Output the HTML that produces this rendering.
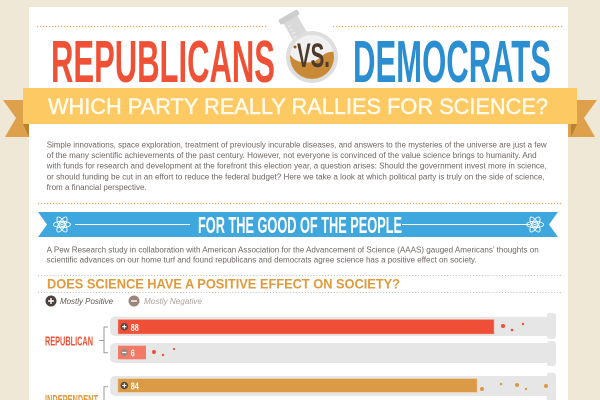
<!DOCTYPE html>
<html><head><meta charset="utf-8">
<style>html,body{margin:0;padding:0;background:#efe8d6;overflow:hidden}svg{display:block}</style></head>
<body>
<svg width="600" height="400" viewBox="0 0 600 400" xmlns="http://www.w3.org/2000/svg">
<defs><clipPath id="fl"><circle cx="312" cy="57" r="22"/></clipPath></defs>
<rect width="600" height="400" fill="#efe8d6"/>
<!-- ribbon tails -->
<path d="M3 100 L32 100 L32 137 L5 137 L16 118 Z" fill="#dea04a"/>
<path d="M597 100 L568 100 L568 137 L595 137 L584 118 Z" fill="#dea04a"/>
<path d="M23 124 L29 124 L29 137 Z" fill="#b98130"/>
<path d="M577 124 L571 124 L571 137 Z" fill="#b98130"/>
<!-- panel -->
<rect x="29" y="7" width="539" height="400" fill="#ffffff"/>
<!-- dotted header lines -->
<line x1="37" y1="26.5" x2="267" y2="26.5" stroke="#eaa65a" stroke-width="1.2" stroke-dasharray="1.2 1.8"/>
<line x1="333" y1="26.5" x2="563" y2="26.5" stroke="#eaa65a" stroke-width="1.2" stroke-dasharray="1.2 1.8"/>
<!-- flask -->
<g transform="rotate(-30 312 57)">
 <rect x="304" y="12" width="16" height="34" fill="#d9d9d9"/>
 <rect x="301" y="8" width="22" height="6" rx="2" fill="#cdcdcd"/>
 <line x1="306" y1="19" x2="310" y2="19" stroke="#f4f4f4" stroke-width="0.8"/>
 <line x1="306" y1="23" x2="309" y2="23" stroke="#f4f4f4" stroke-width="0.8"/>
 <line x1="306" y1="27" x2="310" y2="27" stroke="#f4f4f4" stroke-width="0.8"/>
 <line x1="306" y1="31" x2="309" y2="31" stroke="#f4f4f4" stroke-width="0.8"/>
</g>
<circle cx="312" cy="57" r="26" fill="#dedede"/>
<circle cx="312" cy="57" r="22" fill="#f1f1f1"/>
<path clip-path="url(#fl)" d="M288 50 C291 60 300 64 312 62 C321 60 323 50 336 52 L336 82 L288 82 Z" fill="#c98a38"/>
<circle cx="295" cy="47" r="1.5" fill="#8a5a2a"/>
<text x="297" y="67" font-family="'Liberation Sans Narrow','Liberation Sans',sans-serif" font-weight="bold" font-size="34" textLength="33" lengthAdjust="spacingAndGlyphs" fill="#4e3a2c">VS.</text>
<!-- titles -->
<text x="51" y="82" font-family="'Liberation Sans Narrow','Liberation Sans',sans-serif" font-weight="bold" font-size="59" textLength="224" lengthAdjust="spacingAndGlyphs" fill="#ef5136">REPUBLICANS</text>
<text x="353" y="82" font-family="'Liberation Sans Narrow','Liberation Sans',sans-serif" font-weight="bold" font-size="59" textLength="198" lengthAdjust="spacingAndGlyphs" fill="#2b8ed0">DEMOCRATS</text>
<!-- ribbon -->
<rect x="23" y="88" width="554" height="36" fill="#fcc962"/>
<text x="48" y="114" font-family="'Liberation Sans',sans-serif" font-size="22" textLength="500" lengthAdjust="spacingAndGlyphs" fill="#fffaea" stroke="#fffaea" stroke-width="0.5">WHICH PARTY REALLY RALLIES FOR SCIENCE?</text>
<!-- paragraph -->
<g font-family="'Liberation Sans',sans-serif" font-size="8" fill="#6e6661" lengthAdjust="spacingAndGlyphs">
<text x="46.7" y="147.5" textLength="500" lengthAdjust="spacingAndGlyphs">Simple innovations, space exploration, treatment of previously incurable diseases, and answers to the mysteries of the universe are just a few</text>
<text x="46.7" y="158" textLength="490" lengthAdjust="spacingAndGlyphs">of the many scientific achievements of the past century. However, not everyone is convinced of the value science brings to humanity. And</text>
<text x="46.7" y="168.7" textLength="500" lengthAdjust="spacingAndGlyphs">with funds for research and development at the forefront this election year, a question arises: Should the government invest more in science,</text>
<text x="46.7" y="179.3" textLength="498" lengthAdjust="spacingAndGlyphs">or should funding be cut in an effort to reduce the federal budget? Here we take a look at which political party is truly on the side of science,</text>
<text x="46.7" y="189.8" textLength="100" lengthAdjust="spacingAndGlyphs">from a financial perspective.</text>
</g>
<line x1="38" y1="203.5" x2="562" y2="203.5" stroke="#eaa65a" stroke-width="1.2" stroke-dasharray="1.2 1.8"/>
<!-- blue banner -->
<path d="M38 212 L558 212 L549 224.5 L558 237 L38 237 L47 224.5 Z" fill="#3ea7dd"/>
<line x1="75" y1="224.5" x2="190" y2="224.5" stroke="#ffffff" stroke-width="1"/>
<line x1="402" y1="224.5" x2="530" y2="224.5" stroke="#ffffff" stroke-width="1"/>
<g fill="none" stroke="#ffffff" stroke-width="0.9">
 <ellipse cx="62" cy="224.5" rx="8.5" ry="3.2"/>
 <ellipse cx="62" cy="224.5" rx="8.5" ry="3.2" transform="rotate(60 62 224.5)"/>
 <ellipse cx="62" cy="224.5" rx="8.5" ry="3.2" transform="rotate(120 62 224.5)"/>
 <circle cx="62" cy="224.5" r="2.2"/>
 <ellipse cx="535" cy="224.5" rx="8.5" ry="3.2"/>
 <ellipse cx="535" cy="224.5" rx="8.5" ry="3.2" transform="rotate(60 535 224.5)"/>
 <ellipse cx="535" cy="224.5" rx="8.5" ry="3.2" transform="rotate(120 535 224.5)"/>
 <circle cx="535" cy="224.5" r="2.2"/>
</g>
<circle cx="62" cy="224.5" r="0.9" fill="#fff"/>
<circle cx="535" cy="224.5" r="0.9" fill="#fff"/>
<text x="198" y="233" font-family="'Liberation Sans Narrow','Liberation Sans',sans-serif" font-weight="bold" font-size="23.5" textLength="204" lengthAdjust="spacingAndGlyphs" fill="#ffffff">FOR THE GOOD OF THE PEOPLE</text>
<!-- pew text -->
<g font-family="'Liberation Sans',sans-serif" font-size="8" fill="#6e6661">
<text x="46.7" y="252.5" textLength="492" lengthAdjust="spacingAndGlyphs">A Pew Research study in collaboration with American Association for the Advancement of Science (AAAS) gauged Americans’ thoughts on</text>
<text x="46.7" y="262.5" textLength="430" lengthAdjust="spacingAndGlyphs">scientific advances on our home turf and found republicans and democrats agree science has a positive effect on society.</text>
</g>
<!-- question header -->
<line x1="38" y1="275.5" x2="562" y2="275.5" stroke="#bdbdbd" stroke-width="1.1" stroke-dasharray="1.1 1.8"/>
<text x="47" y="288.5" font-family="'Liberation Sans',sans-serif" font-weight="bold" font-size="14" textLength="353" lengthAdjust="spacingAndGlyphs" fill="#e0993b">DOES SCIENCE HAVE A POSITIVE EFFECT ON SOCIETY?</text>
<line x1="38" y1="292.5" x2="562" y2="292.5" stroke="#bdbdbd" stroke-width="1.1" stroke-dasharray="1.1 1.8"/>
<!-- legend -->
<circle cx="51" cy="301" r="5.5" fill="#4b403c"/>
<path d="M48 301 H54 M51 298 V304" stroke="#fff" stroke-width="1.4"/>
<text x="60" y="304" font-family="'Liberation Sans',sans-serif" font-style="italic" font-size="8.5" textLength="53" lengthAdjust="spacingAndGlyphs" fill="#5f5752">Mostly Positive</text>
<circle cx="134" cy="301" r="5.5" fill="#9b8679"/>
<path d="M131 301 H137" stroke="#fff" stroke-width="1.4"/>
<text x="144" y="304" font-family="'Liberation Sans',sans-serif" font-style="italic" font-size="8.5" textLength="58" lengthAdjust="spacingAndGlyphs" fill="#aaa29c">Mostly Negative</text>
<!-- tracks -->
<g fill="#e6e6e7">
 <rect x="110" y="316.7" width="440" height="19.3" rx="5"/>
 <rect x="546.7" y="313" width="9.3" height="26" rx="3"/>
 <rect x="110" y="343" width="440" height="20" rx="5"/>
 <rect x="546.7" y="341" width="9.3" height="25" rx="3"/>
 <rect x="110" y="376" width="440" height="20" rx="5"/>
 <rect x="546.7" y="372.7" width="9.3" height="35" rx="3"/>
</g>
<!-- bars -->
<rect x="118" y="319.5" width="376" height="14.5" fill="#f04f37" stroke="#f6a394" stroke-width="0.5"/>
<rect x="118" y="345.7" width="28" height="13.6" fill="#f27a67"/>
<rect x="118" y="378.7" width="359" height="13.6" fill="#db9a45" stroke="#eec08a" stroke-width="0.5"/>
<!-- bar icons -->
<circle cx="124.3" cy="326.7" r="3.8" fill="#5a4a44"/>
<path d="M122.2 326.7 H126.4 M124.3 324.6 V328.8" stroke="#fff" stroke-width="1.1"/>
<circle cx="124.3" cy="352.5" r="3.8" fill="#a08a80"/>
<path d="M122.2 352.5 H126.4" stroke="#fff" stroke-width="1.1"/>
<circle cx="124.3" cy="385.5" r="3.8" fill="#5a4a44"/>
<path d="M122.2 385.5 H126.4 M124.3 383.4 V387.6" stroke="#fff" stroke-width="1.1"/>
<g font-family="'Liberation Sans Narrow','Liberation Sans',sans-serif" font-weight="bold" font-size="10" fill="#ffffff">
 <text x="130.7" y="330.8" textLength="8" lengthAdjust="spacingAndGlyphs">88</text>
 <text x="130.7" y="356.5" textLength="4" lengthAdjust="spacingAndGlyphs">6</text>
 <text x="130.7" y="389.6" textLength="8" lengthAdjust="spacingAndGlyphs">84</text>
</g>
<!-- dots -->
<g fill="#f04f37">
 <circle cx="503" cy="326" r="2"/>
 <circle cx="512" cy="330" r="1.3"/>
 <circle cx="523" cy="324" r="1.2"/>
 <circle cx="154" cy="352" r="2"/>
 <circle cx="163" cy="355" r="1.2"/>
 <circle cx="174" cy="349" r="1.1"/>
</g>
<g fill="#db9a45">
 <circle cx="482" cy="389" r="2"/>
 <circle cx="501" cy="384" r="1.3"/>
 <circle cx="517" cy="385" r="2"/>
 <circle cx="526" cy="389" r="1.2"/>
 <circle cx="546" cy="386" r="2"/>
</g>
<!-- labels + brackets -->
<text x="45" y="345.5" font-family="'Liberation Sans Narrow','Liberation Sans',sans-serif" font-weight="bold" font-size="13.3" textLength="48" lengthAdjust="spacingAndGlyphs" fill="#ef5136">REPUBLICAN</text>
<path d="M108 327 H104 V352.7 H108 M99 340.5 H104" fill="none" stroke="#9a9a9a" stroke-width="1"/>
<text x="45" y="404" font-family="'Liberation Sans Narrow','Liberation Sans',sans-serif" font-weight="bold" font-size="13.3" textLength="53" lengthAdjust="spacingAndGlyphs" fill="#e0993b">INDEPENDENT</text>
<path d="M108 386.7 H104 V402" fill="none" stroke="#9a9a9a" stroke-width="1"/>
</svg>
</body></html>
